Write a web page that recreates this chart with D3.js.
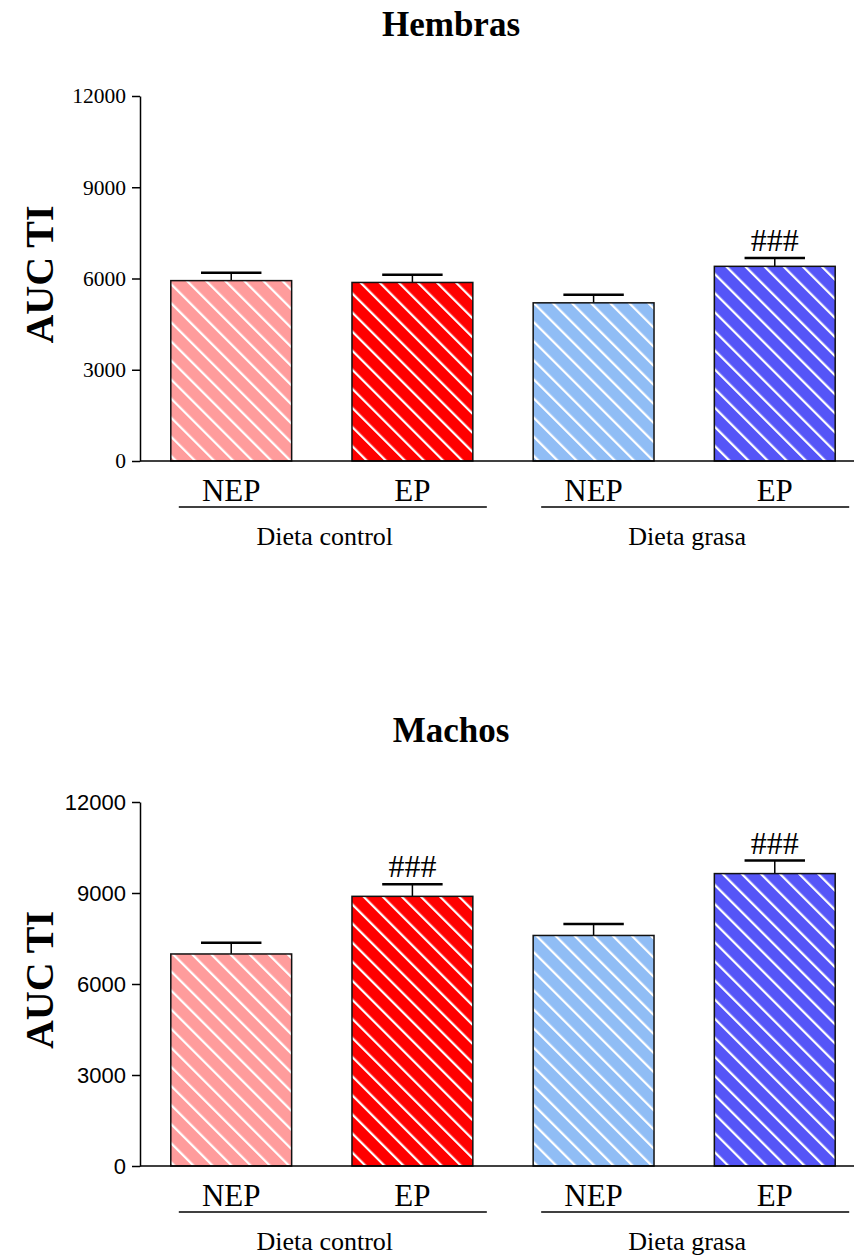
<!DOCTYPE html>
<html>
<head>
<meta charset="utf-8">
<script src="https://cdn.jsdelivr.net/npm/d3@7"></script>
<style>
  body { margin: 0; background: #fff; }
</style>
</head>
<body>
<div id="chart-area"></div>
<script>
// data
let groups = ["NEP", "EP", "NEP", "EP"];
let diets = ["Dieta control", "Dieta grasa"];
let colors = ["#ff9c9c", "#ff0000", "#90bdf5", "#5555f7"];
let yTicks = [0, 3000, 6000, 9000, 12000];

let hembrasMean = [5930, 5870, 5200, 6400];
let hembrasErr = [260, 250, 265, 275];
let hembrasSig = ["", "", "", "###"];

let machosMean = [6990, 8890, 7600, 9640];
let machosErr = [370, 395, 375, 430];
let machosSig = ["", "###", "", "###"];

let width = 854,
    height = 1258;

let serif = "'Liberation Serif', 'Times New Roman', serif";

let svg = d3.select("#chart-area").append("svg")
    .attr("width", width)
    .attr("height", height);

// hatch patterns, one per colour ( "\" stripes )
let defs = svg.append("defs");
colors.forEach(function(c, i) {
  let p = defs.append("pattern")
    .attr("id", "hatch" + i)
    .attr("patternUnits", "userSpaceOnUse")
    .attr("width", 13.5)
    .attr("height", 13.5)
    .attr("patternTransform", "rotate(-45)");
  p.append("rect").attr("width", 13.5).attr("height", 13.5).attr("fill", c);
  p.append("line")
    .attr("x1", 0).attr("y1", 0).attr("x2", 0).attr("y2", 13.5)
    .attr("stroke", "#fff").attr("stroke-width", 4.5);
});

let x = d3.scaleBand()
    .domain(d3.range(groups.length))
    .range([140, 866])
    .paddingInner(0.333)
    .paddingOuter(0.17);

function drawPanel(title, means, errs, sigs, top, bottom, tickFont, tickSize) {
  let g = svg.append("g");
  let y = d3.scaleLinear().domain([0, 12000]).range([bottom, top]);

  // title
  g.append("text")
    .attr("x", 451).attr("y", top - 60)
    .attr("text-anchor", "middle")
    .style("font-family", serif)
    .style("font-weight", "bold")
    .style("font-size", "35px")
    .text(title);

  // y axis label
  g.append("text")
    .attr("transform", "translate(53," + (y(6000) - 4) + ") rotate(-90)")
    .attr("text-anchor", "middle")
    .style("font-family", serif)
    .style("font-weight", "bold")
    .style("font-size", "40px")
    .text("AUC TI");

  // error bars
  let bw = x.bandwidth();
  means.forEach(function(m, i) {
    let cx = x(i) + bw / 2;
    g.append("line")
      .attr("x1", cx).attr("x2", cx)
      .attr("y1", y(m)).attr("y2", y(m + errs[i]))
      .attr("stroke", "#000").attr("stroke-width", 1.5);
    g.append("line")
      .attr("x1", cx - bw / 4).attr("x2", cx + bw / 4)
      .attr("y1", y(m + errs[i])).attr("y2", y(m + errs[i]))
      .attr("stroke", "#000").attr("stroke-width", 2.5);
    if (sigs[i]) {
      g.append("text")
        .attr("x", cx).attr("y", y(m + errs[i]) - 7)
        .attr("text-anchor", "middle")
        .style("font-family", serif)
        .style("font-size", "32px")
        .text(sigs[i]);
    }
  });

  // bars
  g.selectAll(".bar")
    .data(means)
    .enter().append("rect")
    .attr("class", "bar")
    .attr("x", function(d, i) { return x(i); })
    .attr("y", function(d) { return y(d); })
    .attr("width", bw)
    .attr("height", function(d) { return y(0) - y(d); })
    .attr("fill", function(d, i) { return "url(#hatch" + i + ")"; })
    .attr("stroke", "#111")
    .attr("stroke-width", 1.5);

  // y axis
  let yAxis = d3.axisLeft(y)
    .tickValues(yTicks)
    .tickFormat(d3.format("d"))
    .tickSize(8).tickSizeOuter(0).tickPadding(6);
  let ax = g.append("g")
    .attr("transform", "translate(140,0)")
    .call(yAxis);
  ax.select(".domain").attr("stroke-width", 1.5);
  ax.selectAll(".tick line").attr("stroke-width", 1.5);
  ax.selectAll("text")
    .style("font-family", tickFont)
    .style("font-size", tickSize)
    .attr("fill", "#000");

  // baseline
  g.append("line")
    .attr("x1", 140).attr("x2", width)
    .attr("y1", y(0)).attr("y2", y(0))
    .attr("stroke", "#000").attr("stroke-width", 1.5);

  // category labels
  groups.forEach(function(lab, i) {
    g.append("text")
      .attr("x", x(i) + bw / 2).attr("y", bottom + 40)
      .attr("text-anchor", "middle")
      .style("font-family", serif)
      .style("font-size", "31px")
      .text(lab);
  });

  // diet group lines and labels
  diets.forEach(function(d, k) {
    let a = 2 * k, b = 2 * k + 1;
    let x1 = x(a) + 8, x2 = x(b) + bw + 14;
    g.append("line")
      .attr("x1", x1).attr("x2", x2)
      .attr("y1", bottom + 46).attr("y2", bottom + 46)
      .attr("stroke", "#000").attr("stroke-width", 1.5);
    g.append("text")
      .attr("x", (x(a) + x(b) + bw) / 2 + 3).attr("y", bottom + 84)
      .attr("text-anchor", "middle")
      .style("font-family", serif)
      .style("font-size", "26px")
      .text(d);
  });
}

drawPanel("Hembras", hembrasMean, hembrasErr, hembrasSig, 96, 461, serif, "21.5px");
drawPanel("Machos", machosMean, machosErr, machosSig, 802, 1166,
  "'Liberation Sans', Arial, sans-serif", "22px");
</script>
</body>
</html>
